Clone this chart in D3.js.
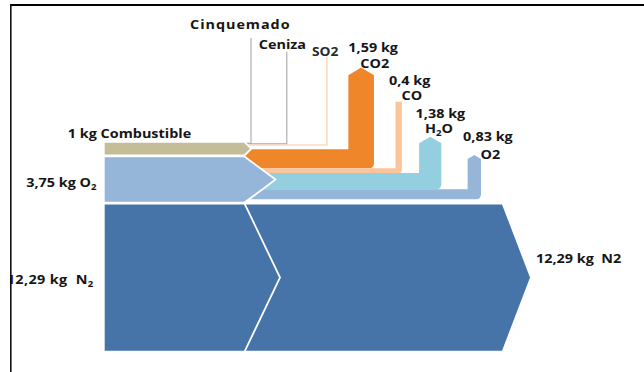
<!DOCTYPE html>
<html>
<head>
<meta charset="utf-8">
<script src="https://cdn.jsdelivr.net/npm/d3@7"></script>
<style>
  html, body { margin: 0; padding: 0; background: #fff; }
  svg { display: block; }
  text { font-family: "Open Sans", "DejaVu Sans", sans-serif; font-weight: 700; font-size: 12px; fill: #151515; white-space: pre; }
</style>
</head>
<body>
<svg id="chart" width="644" height="372"></svg>
<script>
// Balance de masa: combustión de 1 kg de combustible (valores en kg)
const inputNames  = ["Combustible", "O2", "N2"];
const inputValues = [1, 3.75, 12.29];
const inputLabels = ["1 kg Combustible", "3,75 kg O₂", "12,29 kg  N₂"];

const outputNames  = ["Cinquemado", "Ceniza", "SO2", "CO2", "CO", "H2O", "O2"];
const outputValues = [0.05, 0.10, 0.40, 1.59, 0.40, 1.38, 0.83];
const outputValueLabels = ["", "", "", "1,59 kg", "0,4 kg", "1,38 kg", "0,83 kg"];
const outputNameLabels  = ["Cinquemado", "Ceniza", "SO2", "CO2", "CO", "H₂O", "O2"];

const nitrogenOutValue = 12.29;
const nitrogenOutLabel = "12,29 kg  N2";

// ---- styling / layout ----
const inputColors  = ["#c4bd97", "#95b5d9", "#4673a8"];
const outputColors = ["#a8a8a8", "#a8a8a8", "#f8c8a4", "#f0862a", "#fbc49a", "#93cfdf", "#95b5d9"];
const outputKinds  = ["line", "line", "line", "arrow", "flat", "arrow", "arrow"];
const legGaps      = [13, 35, 38.5, 15, 21.5, 17.2, 26.3];   // space before each rising leg
const legTops      = [38, 51.7, 56.7, 67.5, 101.7, 136.7, 155];
const inputTips    = [6, 30, 35];
// label offsets relative to each leg (left edge, top)
const nameOffsets  = [[-61, -8.7], [-28, -2.4], [-15, -0.7], [12, 0], [6, -1.7], [6, -3.7], [13, 4]];
const valueOffsets = [null, null, null, [0, -16], [-6.5, -16.7], [-3.5, -19], [-4.5, -14]];

const X_LEFT = 104.7, Y_TOP = 142.7, GAP = 2.6, BODY_END = 244, JUNCTION = 238;
const N2_BODY_END = 502, N2_TIP = 28;
const TEXT_STRETCH = 1.2;

const thick = d3.scaleLinear().domain([0, 1]).range([0, 11.9]);  // band thickness
const legW  = d3.scaleLinear().domain([0, 1]).range([0, 16.1]);  // rising leg width

const svg = d3.select("#chart");
svg.append("defs").append("clipPath").attr("id", "frameClip")
  .append("rect").attr("x", 11).attr("y", 6).attr("width", 633).attr("height", 366);
const g = svg.append("g").attr("clip-path", "url(#frameClip)");

// stack of incoming bands
let yi = Y_TOP;
const inBands = inputValues.map((v, i) => {
  const y0 = yi, y1 = yi + thick(v);
  yi = y1 + GAP;
  return { i, y0, y1 };
});

// stack of outgoing bands and their rising legs
let yo = Y_TOP, xPrev = JUNCTION;
const outBands = outputValues.map((v, i) => {
  const y0 = yo, y1 = yo + thick(v);
  yo = y1;
  const w = legW(v);
  const xl = xPrev + legGaps[i];
  xPrev = xl + w;
  return { i, y0, y1, xl, xr: xl + w, top: legTops[i] };
});

// outgoing nitrogen (continues at the same height)
const n2 = inBands[2];
const n2Path = d3.path();
n2Path.moveTo(JUNCTION, n2.y0);
n2Path.lineTo(N2_BODY_END, n2.y0);
n2Path.lineTo(N2_BODY_END + N2_TIP, (n2.y0 + n2.y1) / 2);
n2Path.lineTo(N2_BODY_END, n2.y1);
n2Path.lineTo(JUNCTION, n2.y1);
n2Path.closePath();
g.append("path").attr("d", n2Path.toString()).attr("fill", inputColors[2]);

function legPath(b, kind) {
  const w = b.xr - b.xl;
  const r = Math.min(5, w / 2);
  const p = d3.path();
  p.moveTo(JUNCTION, b.y0);
  p.lineTo(b.xl, b.y0);
  if (kind === "arrow") {
    const sy = b.top + (w / 2) * 0.6;
    p.lineTo(b.xl, sy);
    p.lineTo((b.xl + b.xr) / 2, b.top);
    p.lineTo(b.xr, sy);
  } else {
    p.lineTo(b.xl, b.top);
    p.lineTo(b.xr, b.top);
  }
  p.lineTo(b.xr, b.y1 - r);
  p.quadraticCurveTo(b.xr, b.y1, b.xr - r, b.y1);
  p.lineTo(JUNCTION, b.y1);
  p.closePath();
  return p.toString();
}

outBands.filter(b => outputKinds[b.i] !== "line").forEach(b => {
  g.append("path").attr("d", legPath(b, outputKinds[b.i])).attr("fill", outputColors[b.i]);
});

// tiny flows drawn as thin lines
outBands.filter(b => outputKinds[b.i] === "line").forEach(b => {
  const p = d3.path();
  p.moveTo(JUNCTION, b.y0 + 0.5);
  p.lineTo(b.xl, b.y0 + 0.5);
  p.lineTo(b.xl, b.top);
  g.append("path").attr("d", p.toString()).attr("fill", "none")
    .attr("stroke", outputColors[b.i]).attr("stroke-width", 1.1);
});

// incoming bands with arrow tips, outlined in white
inBands.forEach(b => {
  const p = d3.path();
  p.moveTo(X_LEFT, b.y0);
  p.lineTo(BODY_END, b.y0);
  p.lineTo(BODY_END + inputTips[b.i], (b.y0 + b.y1) / 2);
  p.lineTo(BODY_END, b.y1);
  p.lineTo(X_LEFT, b.y1);
  p.closePath();
  g.append("path").attr("d", p.toString())
    .attr("fill", inputColors[b.i])
    .attr("stroke", "#fff").attr("stroke-width", 3.6)
    .attr("stroke-linejoin", "miter")
    .style("paint-order", "stroke");
});

// labels
function addLabel(text, x, y, anchor, extra) {
  const t = g.append("text")
    .attr("transform", `translate(${x},${y}) scale(${TEXT_STRETCH},1)`)
    .attr("text-anchor", anchor);
  if (extra) extra(t);
  text.split("₂").forEach((s, k) => {
    if (k > 0) {
      t.append("tspan").attr("font-size", 8).attr("dy", 2.5).text("2");
      t.append("tspan").attr("dy", -2.5).text(s);
    } else {
      t.append("tspan").text(s);
    }
  });
  return t;
}

addLabel(inputLabels[0], 67.8, 137.7, "start");
addLabel(inputLabels[1], 96.5, 187, "end");
addLabel(inputLabels[2], 93.6, 284, "end", t => t.style("letter-spacing", "0.3px"));
addLabel(nitrogenOutLabel, 536, 263, "start");

outBands.forEach(b => {
  const no = nameOffsets[b.i];
  addLabel(outputNameLabels[b.i], b.xl + no[0], b.top + no[1], "start", t => {
    if (outputNames[b.i] === "SO2") t.style("fill", "#2a2a2a").style("font-size", "11.5px");
    if (outputNames[b.i] === "Cinquemado") t.style("letter-spacing", "0.8px");
  });
  const vo = valueOffsets[b.i];
  if (vo) addLabel(outputValueLabels[b.i], b.xl + vo[0], b.top + vo[1], "start");
});

// frame
svg.append("path").attr("d", "M10,5H644").attr("stroke", "#000").attr("stroke-width", 2).attr("fill", "none");
svg.append("path").attr("d", "M10.8,4V372").attr("stroke", "#111").attr("stroke-width", 1.6).attr("fill", "none");
</script>
</body>
</html>
